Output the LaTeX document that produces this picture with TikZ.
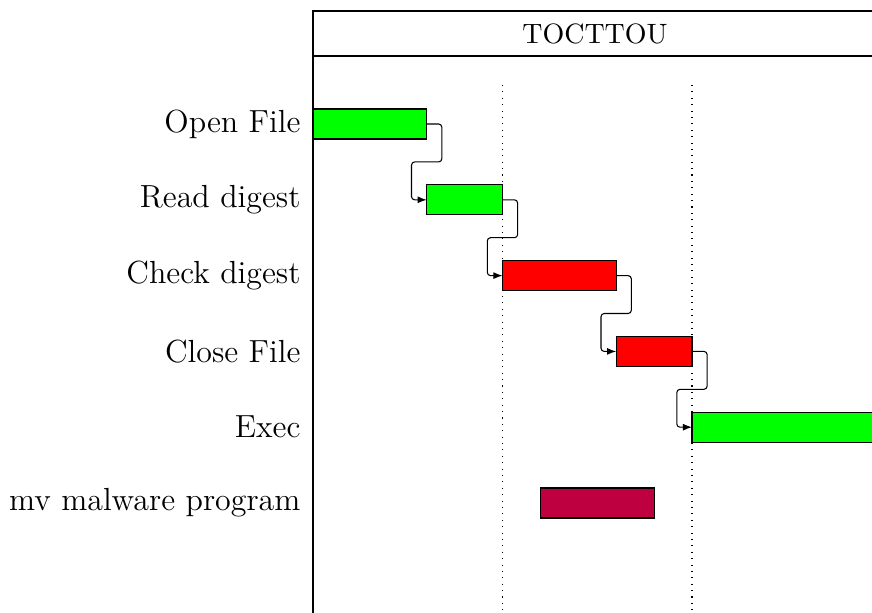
\documentclass[tikz,border=0pt]{standalone}
\usetikzlibrary{arrows.meta,calc}
\begin{document}
\begin{tikzpicture}[x=1cm,y=1cm,
  bar/.style={draw=black, line width=0.4pt, minimum height=0.396cm, inner sep=0pt, outer sep=0pt, anchor=west},
  lab/.style={anchor=east, inner sep=0pt, font=\fontsize{12}{14}\selectfont},
  ttl/.style={inner sep=0pt, font=\fontsize{10.5}{12}\selectfont},
  link/.style={draw, line width=0.4pt, rounded corners=1.2pt, -{Latex[length=3.4pt,width=2.6pt]}},
  gridline/.style={dotted, line width=0.4pt},
  frame/.style={line width=0.4pt}]
\useasboundingbox (0,0) rectangle (11.504,-8.087);
\clip (0,0) rectangle (11.504,-8.087);
% frame
\draw[frame] (4.129,-8.3) -- (4.129,-0.145) -- (12,-0.145);
\draw[frame] (4.129,-0.739) -- (12,-0.739);
\node[ttl] (title) at (7.85,-0.442) {TOCTTOU};
% grid lines
\draw[gridline] (6.629,-1.121) -- (6.629,-8.2);
\draw[gridline] (9.129,-1.121) -- (9.129,-8.2);
% labels
\node[lab] (l1) at (3.971,-1.636) {Open File};
\node[lab] (l2) at (3.971,-2.636) {Read digest};
\node[lab] (l3) at (3.971,-3.636) {Check digest};
\node[lab] (l4) at (3.971,-4.636) {Close File};
\node[lab] (l5) at (3.971,-5.636) {Exec};
\node[lab] (l6) at (3.971,-6.636) {mv malware program};
% bars
\node[bar, fill=green, minimum width=1.5cm] (b1) at (4.129,-1.636) {};
\node[bar, fill=green, minimum width=1.0cm] (b2) at (5.629,-2.636) {};
\node[bar, fill=red, minimum width=1.5cm] (b3) at (6.629,-3.636) {};
\node[bar, fill=red, minimum width=1.0cm] (b4) at (8.129,-4.636) {};
\node[bar, fill=green, minimum width=4.0cm] (b5) at (9.129,-5.636) {};
\node[bar, fill=purple, minimum width=1.5cm] (b6) at (7.129,-6.636) {};
% links
\foreach \s/\t in {b1/b2,b2/b3,b3/b4,b4/b5}{
  \draw[link] (\s.east) -- ++(0.2,0) -- ($(\s.east)+(0.2,-0.5)$) -- ($(\t.west)+(-0.2,0.5)$) -- ($(\t.west)+(-0.2,0)$) -- (\t.west);
}
\end{tikzpicture}
\end{document}
